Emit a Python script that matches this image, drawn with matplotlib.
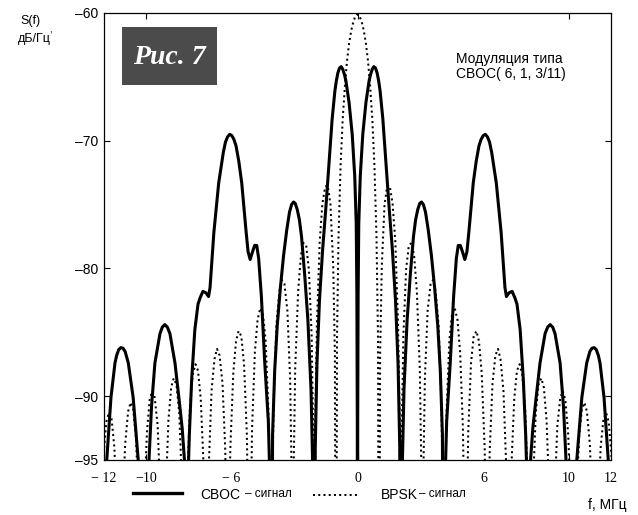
import numpy as np
import matplotlib
matplotlib.use('Agg')
import matplotlib.pyplot as plt
from matplotlib.lines import Line2D
from matplotlib.patches import Rectangle

plt.rcParams['font.family'] = ['Liberation Sans', 'DejaVu Sans']

# CBOC(6,1,3/11) power spectrum, positive half (f in MHz, S in dB/Hz), one row per lobe
cboc_f = [0.0, 0.01, 0.03, 0.06, 0.13, 0.25, 0.4, 0.55, 0.62, 0.7, 0.77, 0.85, 0.93, 1.0, 1.07, 1.2, 1.35, 1.5, 1.65, 1.8, 1.92, 2.0, 2.05,
          2.1, 2.2, 2.35, 2.5, 2.65, 2.75, 2.85, 2.95, 3.03, 3.12, 3.22, 3.35, 3.5, 3.65, 3.8, 3.92, 4.02, 4.09,
          4.14, 4.22, 4.39, 4.55, 4.68, 4.77, 4.87, 4.97, 5.08, 5.18, 5.28, 5.48, 5.62, 5.75, 5.85, 5.95, 6.05, 6.15, 6.25, 6.35,
          6.57, 6.8, 6.9, 6.98, 7.05, 7.18, 7.32, 7.45, 7.55, 7.7, 7.85, 7.96, 8.05, 8.1,
          8.17, 8.3, 8.45, 8.64, 8.88, 9.0, 9.12, 9.24, 9.35, 9.59, 9.75, 9.87, 10.0, 10.2,
          10.3, 10.38, 10.62, 10.85, 11.0, 11.1, 11.2, 11.3, 11.4, 11.48, 11.67, 11.87, 12.0, 12.3]
cboc_db = [-125, -92, -82, -76.5, -72.8, -69.5, -67.0, -65.3, -64.8, -64.4, -64.2, -64.3, -64.7, -65.3, -66.1, -68.3, -71.8, -75.3, -78.5, -82.5, -87.5, -94, -125,
           -97, -89.5, -84, -80.5, -77.5, -76.2, -75.4, -74.9, -74.8, -75.0, -75.6, -77.0, -79, -81.5, -84.5, -88, -93, -125,
           -97, -92, -87.4, -82.2, -79.2, -78.2, -78.2, -78.7, -79.3, -78.7, -77.0, -73.3, -71.6, -70.4, -69.9, -69.6, -69.5, -69.7, -70.1, -70.9,
           -73.3, -77.2, -79.6, -81.5, -82.2, -81.9, -81.8, -82.3, -82.8, -84.8, -88.7, -93, -98, -125,
           -95.5, -92.5, -90.2, -87.4, -85.1, -84.6, -84.4, -84.6, -85.1, -87.4, -90.8, -95, -102, -125,
           -102, -95, -90.1, -87.4, -86.5, -86.25, -86.2, -86.35, -86.8, -87.4, -90.1, -95, -102, -125]

# BPSK(1) power spectrum, positive half
bpsk_f = [0.0, 0.1, 0.2, 0.3, 0.4, 0.5, 0.6, 0.7, 0.8, 0.9, 0.97,
          1.02, 1.07, 1.15, 1.28, 1.41, 1.53, 1.66, 1.79, 1.92, 2.00,
          2.05, 2.10, 2.17, 2.30, 2.43, 2.56, 2.68, 2.81, 2.95, 3.02,
          3.07, 3.12, 3.19, 3.32, 3.46, 3.58, 3.70, 3.84, 3.97, 4.04,
          4.09, 4.14, 4.22, 4.35, 4.48, 4.60, 4.73, 4.86, 4.99, 5.06,
          5.12, 5.17, 5.24, 5.37, 5.50, 5.63, 5.75, 5.88, 6.02, 6.09,
          6.14, 6.19, 6.26, 6.39, 6.53, 6.65, 6.77, 6.91, 7.04, 7.11,
          7.16, 7.21, 7.28, 7.42, 7.55, 7.67, 7.80, 7.93, 8.06, 8.13,
          8.18, 8.24, 8.31, 8.44, 8.57, 8.70, 8.82, 8.95, 9.08, 9.16,
          9.21, 9.26, 9.33, 9.46, 9.60, 9.72, 9.84, 9.97, 10.11, 10.18,
          10.23, 10.28, 10.35, 10.49, 10.62, 10.74, 10.86, 11.00, 11.13, 11.20,
          11.25, 11.30, 11.38, 11.51, 11.64, 11.77, 11.89, 12.02, 12.15, 12.23,
          12.28]
bpsk_db = [-60.1, -60.25, -60.7, -61.4, -62.4, -63.8, -65.8, -68.3, -71.9, -77.6, -85.4,
           -120, -86.7, -79.8, -75.0, -73.5, -73.6, -74.9, -77.9, -84.3, -92.0,
           -120, -92.4, -85.3, -80.1, -78.2, -78.0, -79.0, -81.8, -87.9, -95.5,
           -120, -95.8, -88.6, -83.3, -81.2, -80.9, -81.8, -84.5, -90.5, -98.0,
           -120, -98.3, -91.0, -85.6, -83.5, -83.1, -84.0, -86.6, -92.5, -100.0,
           -120, -100.3, -92.9, -87.5, -85.3, -84.9, -85.7, -88.2, -94.1, -101.6,
           -120, -101.8, -94.2, -89.0, -86.8, -86.3, -87.1, -89.6, -95.5, -103.0,
           -120, -103.0, -95.7, -90.2, -88.0, -87.5, -88.3, -90.8, -96.7, -104.0,
           -120, -104.3, -96.9, -91.3, -89.1, -88.6, -89.3, -91.9, -97.7, -105.0,
           -120, -105.3, -97.9, -92.3, -90.1, -89.6, -90.3, -92.9, -98.7, -106.0,
           -120, -106.2, -98.8, -93.2, -91.0, -90.5, -91.2, -93.8, -99.6, -107.0,
           -120, -107.0, -99.6, -94.0, -91.8, -91.3, -92.0, -94.6, -100.4, -108.0,
           -120]

x_ticks = [-12, -10, -6, 0, 6, 10, 12]
x_tick_labels = ['\u2212 12', '\u221210', '\u2212 6', '0', '6', '10', '12']
y_ticks = [-95, -90, -80, -70, -60]
y_tick_labels = ['\u201395', '\u201390', '\u201380', '\u201370', '\u201360']


def both_sides(f, s):
    # spectra are symmetric about the carrier
    f = np.asarray(f, dtype=float)
    s = np.asarray(s, dtype=float)
    return np.concatenate([-f[::-1], f]), np.concatenate([s[::-1], s])


W, H = 638, 515
fig = plt.figure(figsize=(W / 100, H / 100), dpi=100)


def px(x, y):
    return x / W, 1 - y / H


ax = fig.add_axes([104 / W, 1 - 460 / H, (611 - 104) / W, (460 - 13) / H])

dots = (0, (1, 1.6))
ax.plot(*both_sides(bpsk_f, bpsk_db), color='k', lw=1.45, linestyle=dots)
ax.plot(*both_sides(cboc_f, cboc_db), color='k', lw=2.2, solid_joinstyle='round')

ax.set_xlim(-12, 12)
ax.set_ylim(-95, -60)
for s in ax.spines.values():
    s.set_linewidth(0.9)

ax.set_xticks(x_ticks, x_tick_labels, fontfamily='Liberation Serif', fontsize=10)
ax.set_yticks(y_ticks, y_tick_labels, fontsize=10)
ax.set_xticks([-10, 0, 10], minor=True)
ax.set_yticks([-90, -80, -70], minor=True)
ax.xaxis.remove_overlapping_locs = False
ax.yaxis.remove_overlapping_locs = False
ax.tick_params(which='major', length=0)
ax.tick_params(axis='x', which='major', pad=9)
ax.tick_params(axis='y', which='major', pad=4)
ax.tick_params(which='minor', direction='in', length=4, width=0.8,
               top=True, right=True, bottom=True, left=True)

# axis captions
fig.text(*px(30, 21), 'S(f)', fontsize=9, ha='center', va='center')
fig.text(*px(50, 29), ',', fontsize=7, ha='center', va='center')
fig.text(*px(34, 39), 'дБ/Гц', fontsize=9, ha='center', va='center')
fig.text(*px(588, 505), 'f, МГц', fontsize=10, ha='left', va='center')

# figure badge
fig.add_artist(Rectangle(px(121.5, 85), 95 / W, 58 / H, transform=fig.transFigure,
                         facecolor='#4b4b4b', edgecolor='none'))
fig.text(*px(169, 57), 'Рис. 7', color='white', fontsize=20, fontfamily='Liberation Serif',
         fontweight='bold', fontstyle='italic', ha='center', va='center')

# modulation note
fig.text(*px(456, 59), 'Модуляция типа', fontsize=10, ha='left', va='center')
fig.text(*px(456, 74), 'CBOC( 6, 1, 3/11)', fontsize=10, ha='left', va='center')

# legend under the axis
fig.add_artist(Line2D([133 / W, 182 / W], [1 - 493 / H] * 2, transform=fig.transFigure,
                      color='k', lw=2.4))
fig.text(*px(200, 499), 'CBOC', fontsize=10, ha='left', va='baseline')
fig.text(*px(245, 497), '– сигнал', fontsize=8.5, ha='left', va='baseline')
fig.add_artist(Line2D([313 / W, 360 / W], [1 - 495 / H] * 2, transform=fig.transFigure,
                      color='k', lw=1.45, linestyle=dots))
fig.text(*px(381, 499), 'BPSK', fontsize=10, ha='left', va='baseline')
fig.text(*px(419, 497), '– сигнал', fontsize=8.5, ha='left', va='baseline')

fig.savefig('out.png', dpi=100)
